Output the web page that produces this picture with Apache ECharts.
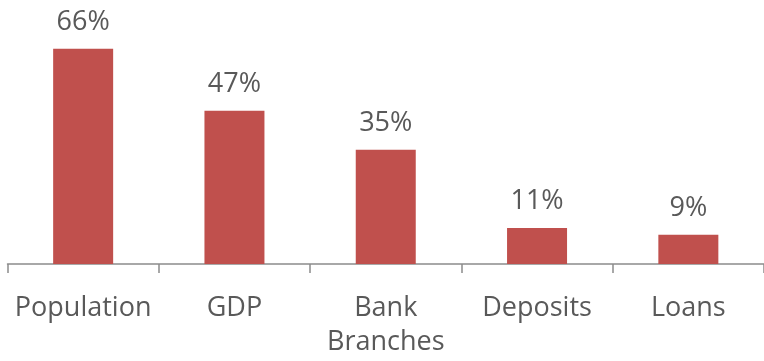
<!DOCTYPE html>
<html>
<head>
<meta charset="utf-8">
<script src="https://cdn.jsdelivr.net/npm/echarts@6/dist/echarts.min.js"></script>
<style>
  html, body { margin: 0; padding: 0; background: #fff; }
  #chart { width: 764px; height: 361px; }
</style>
</head>
<body>
<div id="chart"></div>
<script>
// Share of totals by indicator
const categories = ['Population', 'GDP', 'Bank\nBranches', 'Deposits', 'Loans'];
const shares = [66, 47, 35, 11, 9];

const chart = echarts.init(document.getElementById('chart'), null, { renderer: 'canvas' });
chart.setOption({
  animation: false,
  grid: { left: 7.5, top: 3, width: 758, bottom: 97, containLabel: false },
  xAxis: {
    type: 'category',
    data: categories,
    axisLine: { lineStyle: { color: '#8c8c8c', width: 1.5 } },
    axisTick: { show: true, length: 9, lineStyle: { color: '#8c8c8c', width: 1.5 } },
    axisLabel: {
      color: '#595959',
      fontFamily: 'Open Sans',
      fontSize: 27,
      lineHeight: 34,
      margin: 27,
      interval: 0
    }
  },
  yAxis: {
    type: 'value',
    min: 0,
    max: 80,
    show: false,
    splitLine: { show: false }
  },
  series: [{
    type: 'bar',
    data: shares,
    barWidth: 60,
    itemStyle: { color: '#c0504d' },
    label: {
      show: true,
      position: 'top',
      distance: 13,
      formatter: '{c}%',
      color: '#595959',
      fontFamily: 'Open Sans',
      fontSize: 27
    }
  }]
});
</script>
</body>
</html>
